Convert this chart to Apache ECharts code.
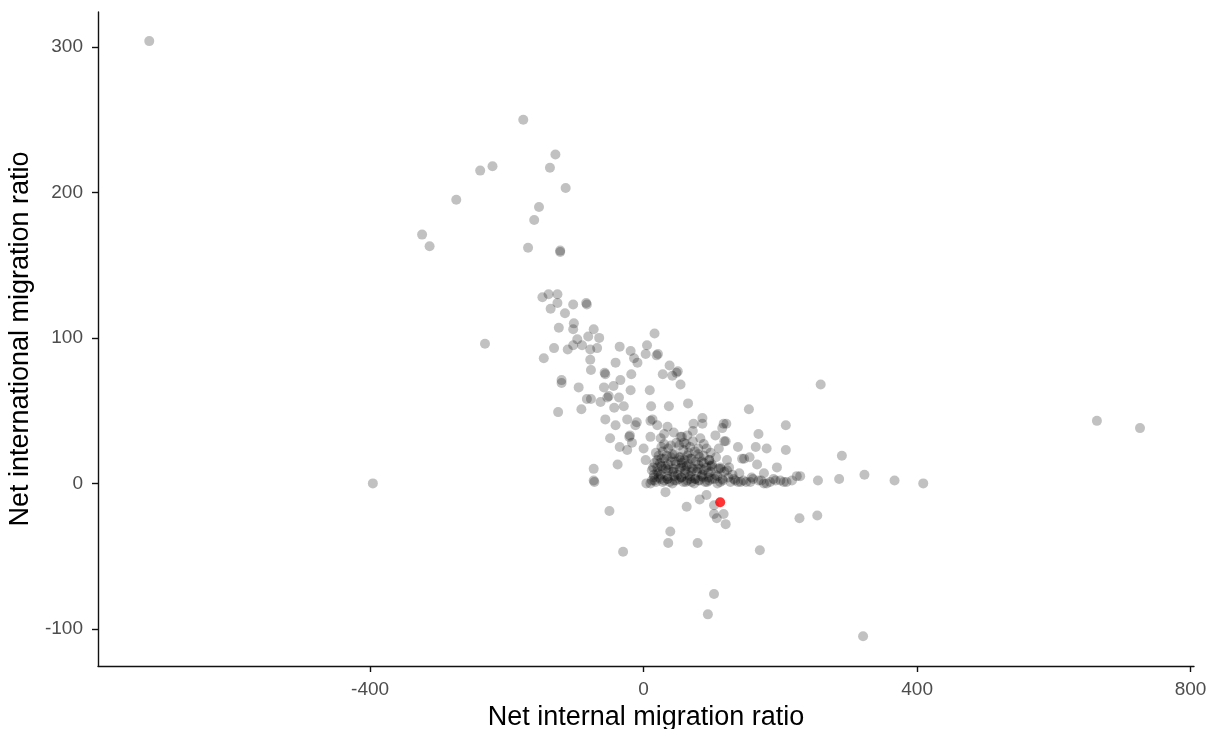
<!DOCTYPE html>
<html>
<head>
<meta charset="utf-8">
<title>Net migration ratios</title>
<script src="https://cdn.jsdelivr.net/npm/echarts@6/dist/echarts.min.js"></script>
<style>
  html, body { margin: 0; padding: 0; background: #fff; }
  #chart { width: 1210px; height: 729px; }
</style>
</head>
<body>
<div id="chart"></div>
<script>
// net internal migration ratio (x) for each area
const internalRatio = [
  -723, -176, -129, -137, -239, -221, -114, -274, -153, -160, -324, -313, -169, -122, -122,
  -396, -232, -148, -139, -126, -126, -136, -115, -124, -131, -146, -111, -103, -83, -84,
  -102, -103, -73, -65, -81, -97, -103, -90, -68, -78, -78, -77, -41, -35, -19,
  -14, -9, 5, 3, 16, 19, 21, 38, 48, 50, 28, 42, 54, -57, -56,
  -34, -18, -120, -120, -95, -58, -44, -19, 9, -125, -91, -83, -77, -63, -53,
  -51, -36, -29, -43, -56, -41, -24, -12, -10, 11, 13, 10, 37, 35, 65,
  73, 86, 86, 121, 154, 259, 208, 168, 138, 164, 180, 208, 290, 195, 229,
  255, 286, 323, 367, 409, 200, 209, 217, 176, 176, 156, 142, 127, 228, 254,
  120, 663, 726, -72, -73, -73, 4, 32, -50, 63, 82, 92, 103, 103, 107,
  117, 39, 36, 79, -30, 170, 103, 94, 321, -49, -35, -21, -20, -17, -24,
  20, 10, 25, 0, -38, 3, 54, 83, 105, 117, 115, 118, 56, 59, 88,
  144, 155, 166, 122, 110, 98, 224, 120, 147,
  // dense core near zero international migration
  12, 18, 25, 30, 38, 45, 52, 58, 64, 70, 76, 82, 90, 96, 104, 112, 134, 150, 168, 185, 193,
  15, 22, 35, 42, 50, 60, 68, 78, 86, 95, 108, 118, 130, 140,
  14, 26, 33, 47, 55, 63, 72, 80, 92, 100, 113, 125,
  20, 30, 40, 52, 60, 70, 85, 96, 106,
  18, 28, 45, 58, 66, 75, 92,
  30, 40, 48, 62, 72,
  10, 16, 22, 28, 35, 42, 48, 55, 62, 68, 74, 80, 87, 93, 100, 108, 116, 124, 138, 160, 180,
  12, 20, 28, 36, 44, 53, 61, 70, 79, 88, 98, 110, 122,
  16, 24, 36, 46, 56, 66, 76, 88, 100,
  22, 34, 42, 54, 64, 80, 88,
  26, 36, 52, 68, 80,
  30, 44, 64, 72,
  15, 25, 35, 45, 55, 65, 75, 85, 95, 105, 115,
  20, 32, 44, 58, 70, 84, 98, 112,
  26, 40, 54, 68, 82, 96,
  132, 146, 158, 172, 190, 205
];

// net international migration ratio (y), same order
const internationalRatio = [
  304, 250, 226, 217, 215, 218, 203, 195, 190, 181, 171, 163, 162, 159, 160,
  0, 96, 128, 130, 130, 124, 120, 117, 107, 93, 86, 92, 123, 123, 124,
  110, 106, 106, 100, 101, 99, 95, 95, 93, 92, 85, 78, 83, 94, 91,
  86, 83, 95, 89, 103, 88, 89, 81, 76, 77, 75, 74, 68, 76, 75,
  71, 75, 69, 71, 66, 66, 67, 64, 64, 49, 51, 58, 58, 56, 59,
  60, 59, 53, 52, 44, 40, 44, 40, 42, 53, 44, 43, 53, 39, 55,
  41, 45, 41, 41, 51, 68, 40, 34, 25, 25, 24, 23, 19, 11, 5,
  2, 3, 6, 2, 0, 2, 1, 2, 7, 0, 1, 1, 1, -24, -22,
  -28, 43, 38, 1, 2, 10, 0, -6, -19, -16, -11, -8, -15, -21, -24,
  -21, -33, -41, -41, -47, -46, -76, -90, -105, 31, 25, 32, 33, 28, 23,
  40, 32, 31, 24, 13, 16, 32, 31, 33, 41, 38, 29, 32, 28, 27,
  17, 18, 13, 16, 24, 21, 5, 29, 17,
  2, 1, 3, 2, 1, 2, 3, 1, 2, 1, 3, 2, 1, 2, 3, 1, 2, 1, 2, 1, 2,
  6, 7, 5, 8, 6, 7, 5, 8, 6, 7, 5, 8, 6, 7,
  11, 12, 10, 13, 11, 12, 10, 13, 11, 12, 10, 11,
  16, 17, 15, 18, 16, 17, 15, 16, 18,
  21, 22, 20, 23, 21, 22, 24,
  27, 26, 28, 27, 29,
  0, 2, 4, 1, 3, 0, 2, 4, 1, 3, 0, 2, 4, 1, 3, 0, 2, 4, 1, 3, 0,
  9, 8, 10, 9, 8, 10, 9, 8, 10, 9, 8, 10, 9,
  14, 14, 13, 15, 14, 13, 15, 14, 13,
  19, 19, 20, 18, 19, 20, 19,
  25, 24, 26, 25, 24,
  34, 35, 33, 36,
  4, 6, 3, 5, 4, 6, 3, 5, 4, 6, 3,
  11, 12, 10, 12, 11, 10, 12, 11,
  17, 18, 16, 17, 18, 16,
  3, 2, 4, 2, 3, 1
];

// highlighted area (red)
const highlightX = [112];
const highlightY = [-13];

const xTicks = [-400, 0, 400, 800];
const yTicks = [-100, 0, 100, 200, 300];

const grayPoints = internalRatio.map((x, i) => [x, internationalRatio[i]]);
const redPoints = highlightX.map((x, i) => [x, highlightY[i]]);

const chart = echarts.init(document.getElementById('chart'));

const axisText = { color: '#4d4d4d', fontSize: 19, fontFamily: 'Liberation Sans' };
const titleText = { color: '#000', fontSize: 27, fontFamily: 'Liberation Sans' };

chart.setOption({
  animation: false,
  backgroundColor: '#fff',
  // fixed panel box, labels may sit outside it
  grid: { left: 98, right: 16, top: 12, bottom: 63, containLabel: false, outerBoundsMode: 'none' },
  xAxis: {
    type: 'value',
    min: -798,
    max: 805,
    name: 'Net internal migration ratio',
    nameLocation: 'middle',
    nameGap: 38,
    nameTextStyle: titleText,
    axisLine: { show: true, onZero: false, lineStyle: { color: '#111', width: 1.4 } },
    axisTick: { show: true, length: 6, customValues: xTicks, lineStyle: { color: '#111', width: 1.4 } },
    axisLabel: { ...axisText, margin: 14, customValues: xTicks },
    splitLine: { show: false }
  },
  yAxis: {
    type: 'value',
    min: -125.5,
    max: 324,
    name: 'Net international migration ratio',
    nameLocation: 'middle',
    nameGap: 46,
    nameTextStyle: titleText,
    axisLine: { show: true, onZero: false, lineStyle: { color: '#111', width: 1.4 } },
    axisTick: { show: true, length: 6, customValues: yTicks, lineStyle: { color: '#111', width: 1.4 } },
    axisLabel: { ...axisText, margin: 15, customValues: yTicks },
    splitLine: { show: false }
  },
  series: [
    {
      type: 'scatter',
      data: grayPoints,
      symbolSize: 10,
      itemStyle: { color: 'rgba(0,0,0,0.3)' }
    },
    {
      type: 'scatter',
      data: redPoints,
      symbolSize: 10,
      z: 3,
      itemStyle: { color: '#ff0000' }
    }
  ]
});
</script>
</body>
</html>
